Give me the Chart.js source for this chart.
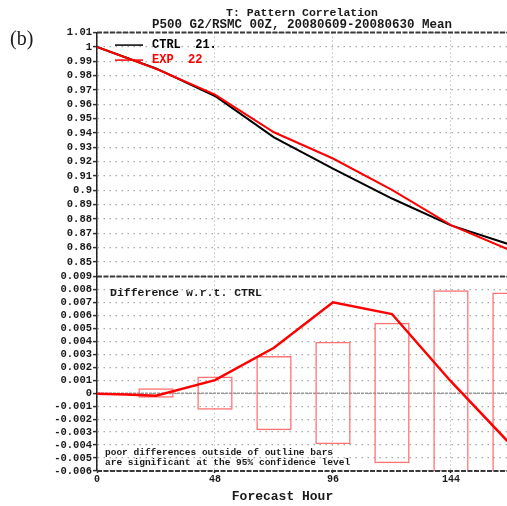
<!DOCTYPE html>
<html>
<head>
<meta charset="utf-8">
<title>T: Pattern Correlation</title>
<script src="https://cdn.jsdelivr.net/npm/chart.js@4.4.0/dist/chart.umd.min.js"></script>
<style>
  body { margin: 0; background: #fff; }
  #wrap { position: relative; width: 507px; height: 506px; }
</style>
</head>
<body>
<div id="wrap"><canvas id="corrChart" width="507" height="506"></canvas></div>
<script>
// P500 pattern correlation by forecast hour
const hours = [0, 24, 48, 72, 96, 120, 144, 168];
const ctrlCorr = [1.0, 0.985, 0.9658, 0.937, 0.9152, 0.8943, 0.8756, 0.8622];
const expCorr = [1.0, 0.9848, 0.9668, 0.9405, 0.9222, 0.9004, 0.8758, 0.8583];

// EXP minus CTRL
const diffHours = [0, 12, 24, 48, 72, 96, 120, 144, 168];
const diffVals = [-0.00005, -0.0001, -0.0002, 0.001, 0.0035, 0.007, 0.0061, 0.0009, -0.0039];

// 95% confidence outline bars
const barHours = [24, 48, 72, 96, 120, 144, 168];
const barLow = [-0.00035, -0.00127, -0.00285, -0.00393, -0.0054, -0.0079, -0.00775];
const barHigh = [0.00038, 0.00128, 0.00286, 0.00396, 0.00543, 0.00793, 0.00776];

const seriesNames = ['CTRL', 'EXP'];
const caseCounts = ['21.', '22'];

const corrTicks = [1.01, 1, 0.99, 0.98, 0.97, 0.96, 0.95, 0.94, 0.93, 0.92, 0.91, 0.9, 0.89, 0.88, 0.87, 0.86, 0.85];
const diffTicks = [0.009, 0.008, 0.007, 0.006, 0.005, 0.004, 0.003, 0.002, 0.001, 0, -0.001, -0.002, -0.003, -0.004, -0.005, -0.006];
const hourTicks = [0, 48, 96, 144];

const MONO = '"Liberation Mono", "DejaVu Sans Mono", monospace';
const INK = '#1a1a1a';

Chart.defaults.font.family = MONO;
Chart.defaults.font.weight = 'bold';
Chart.defaults.color = INK;

function fmt(v) {
    return String(+v.toFixed(3));
}

// Frame, zero line and all the annotation text
const decorPlugin = {
    id: 'decor',
    beforeDatasetsDraw(chart) {
        const { ctx, chartArea } = chart;
        const y0 = chart.scales.yDiff.getPixelForValue(0);
        ctx.save();
        ctx.strokeStyle = '#9a9a9a';
        ctx.lineWidth = 1.5;
        ctx.setLineDash([3, 1]);
        ctx.beginPath();
        ctx.moveTo(chartArea.left, y0);
        ctx.lineTo(chartArea.right, y0);
        ctx.stroke();
        ctx.restore();
    },
    afterDraw(chart) {
        const { ctx, chartArea } = chart;
        const split = chart.scales.yDiff.top;
        const left = chartArea.left;
        const midX = (chartArea.left + chartArea.right) / 2;

        ctx.save();
        ctx.strokeStyle = '#3a3a3a';
        ctx.lineWidth = 2;
        ctx.setLineDash([5, 1.5]);
        [chartArea.top, split, chartArea.bottom].forEach(y => {
            ctx.beginPath();
            ctx.moveTo(left, y);
            ctx.lineTo(chartArea.right, y);
            ctx.stroke();
        });
        ctx.setLineDash([]);

        ctx.fillStyle = INK;
        ctx.textBaseline = 'middle';

        ctx.font = '20px "Liberation Serif", "DejaVu Serif", serif';
        ctx.textAlign = 'left';
        ctx.fillText('(b)', 10, 40);

        ctx.textAlign = 'center';
        ctx.font = 'bold 11.5px ' + MONO;
        ctx.fillText('T: Pattern Correlation', midX, 13);
        ctx.font = 'bold 12.5px ' + MONO;
        ctx.fillText('P500 G2/RSMC 00Z, 20080609-20080630 Mean', midX, 24.5);

        // legend
        const rows = [chartArea.top + 12.5, chartArea.top + 27.5];
        ctx.textAlign = 'left';
        ctx.font = 'bold 12px ' + MONO;
        seriesNames.forEach((name, i) => {
            const ds = chart.data.datasets[i];
            ctx.strokeStyle = ds.borderColor;
            ctx.lineWidth = 1.5;
            ctx.beginPath();
            ctx.moveTo(left + 18, rows[i]);
            ctx.lineTo(left + 46, rows[i]);
            ctx.stroke();
            ctx.fillStyle = ds.borderColor;
            ctx.fillText(name + '  ' + caseCounts[i], left + 55, rows[i]);
        });

        ctx.fillStyle = INK;
        ctx.font = 'bold 11.5px ' + MONO;
        ctx.fillText('Difference w.r.t. CTRL', left + 13, split + 16.5);

        ctx.font = 'bold 9.5px ' + MONO;
        ctx.fillText('poor differences outside of outline bars', left + 8, chartArea.bottom - 18);
        ctx.fillText('are significant at the 95% confidence level', left + 8, chartArea.bottom - 8.5);

        ctx.textAlign = 'center';
        ctx.font = 'bold 13px ' + MONO;
        ctx.fillText('Forecast Hour', 282.5, 497);
        ctx.restore();
    }
};

const ctx = document.getElementById('corrChart');

new Chart(ctx, {
    type: 'line',
    data: {
        datasets: [
            {
                label: seriesNames[0],
                data: hours.map((h, i) => ({ x: h, y: ctrlCorr[i] })),
                yAxisID: 'yCorr',
                borderColor: '#000000',
                borderWidth: 2,
                pointRadius: 0,
                order: 1
            },
            {
                label: seriesNames[1],
                data: hours.map((h, i) => ({ x: h, y: expCorr[i] })),
                yAxisID: 'yCorr',
                borderColor: '#ff0000',
                borderWidth: 2,
                pointRadius: 0,
                order: 0
            },
            {
                label: 'EXP - CTRL',
                data: diffHours.map((h, i) => ({ x: h, y: diffVals[i] })),
                yAxisID: 'yDiff',
                borderColor: '#ff0000',
                borderWidth: 2.5,
                pointRadius: 0,
                order: 0
            },
            {
                type: 'bar',
                label: '95% interval',
                data: barHours.map((h, i) => ({ x: h, y: [barLow[i], barHigh[i]] })),
                yAxisID: 'yDiff',
                backgroundColor: 'rgba(0,0,0,0)',
                borderColor: 'rgba(255, 90, 90, 0.85)',
                borderWidth: 1.5,
                borderSkipped: false,
                categoryPercentage: 1,
                barPercentage: 0.6,
                order: 3
            }
        ]
    },
    options: {
        responsive: false,
        animation: false,
        devicePixelRatio: 1,
        layout: { padding: { top: 32.6, right: 0, bottom: 0, left: 0 } },
        plugins: {
            legend: { display: false },
            title: { display: false },
            tooltip: { enabled: false }
        },
        scales: {
            x: {
                type: 'linear',
                min: 0,
                max: 166.8,
                offset: false,
                afterBuildTicks: s => { s.ticks = hourTicks.map(v => ({ value: v })); },
                afterFit: s => { s.height = 35; },
                ticks: { autoSkip: false, maxRotation: 0, padding: 0, font: { size: 10 }, callback: v => String(v) },
                grid: { offset: false, color: '#a8a8a8', lineWidth: 1, tickLength: 2, tickColor: '#333', tickWidth: 1.5 },
                border: { display: false, dash: [1, 3] }
            },
            yDiff: {
                type: 'linear',
                position: 'left',
                stack: 'panels',
                stackWeight: 194.6,
                min: -0.006,
                max: 0.009,
                afterBuildTicks: s => { s.ticks = diffTicks.map(v => ({ value: v })); },
                afterFit: s => { s.width = 97; },
                ticks: { autoSkip: false, padding: 1, font: { size: 10.5 }, callback: v => fmt(v) },
                grid: { color: '#a8a8a8', lineWidth: 1.2, tickLength: 4, tickColor: '#333', tickWidth: 1.5 },
                border: { color: '#222', width: 1.5, dash: [1.5, 4.5] }
            },
            yCorr: {
                type: 'linear',
                position: 'left',
                stack: 'panels',
                stackWeight: 243.8,
                min: 0.84,
                max: 1.01,
                afterBuildTicks: s => { s.ticks = corrTicks.map(v => ({ value: v })); },
                afterFit: s => { s.width = 97; },
                ticks: { autoSkip: false, padding: 1, font: { size: 10.5 }, callback: v => fmt(v) },
                grid: { color: '#a8a8a8', lineWidth: 1.2, tickLength: 4, tickColor: '#333', tickWidth: 1.5 },
                border: { color: '#222', width: 1.5, dash: [1.5, 4.5] }
            }
        }
    },
    plugins: [decorPlugin]
});
</script>
</body>
</html>
